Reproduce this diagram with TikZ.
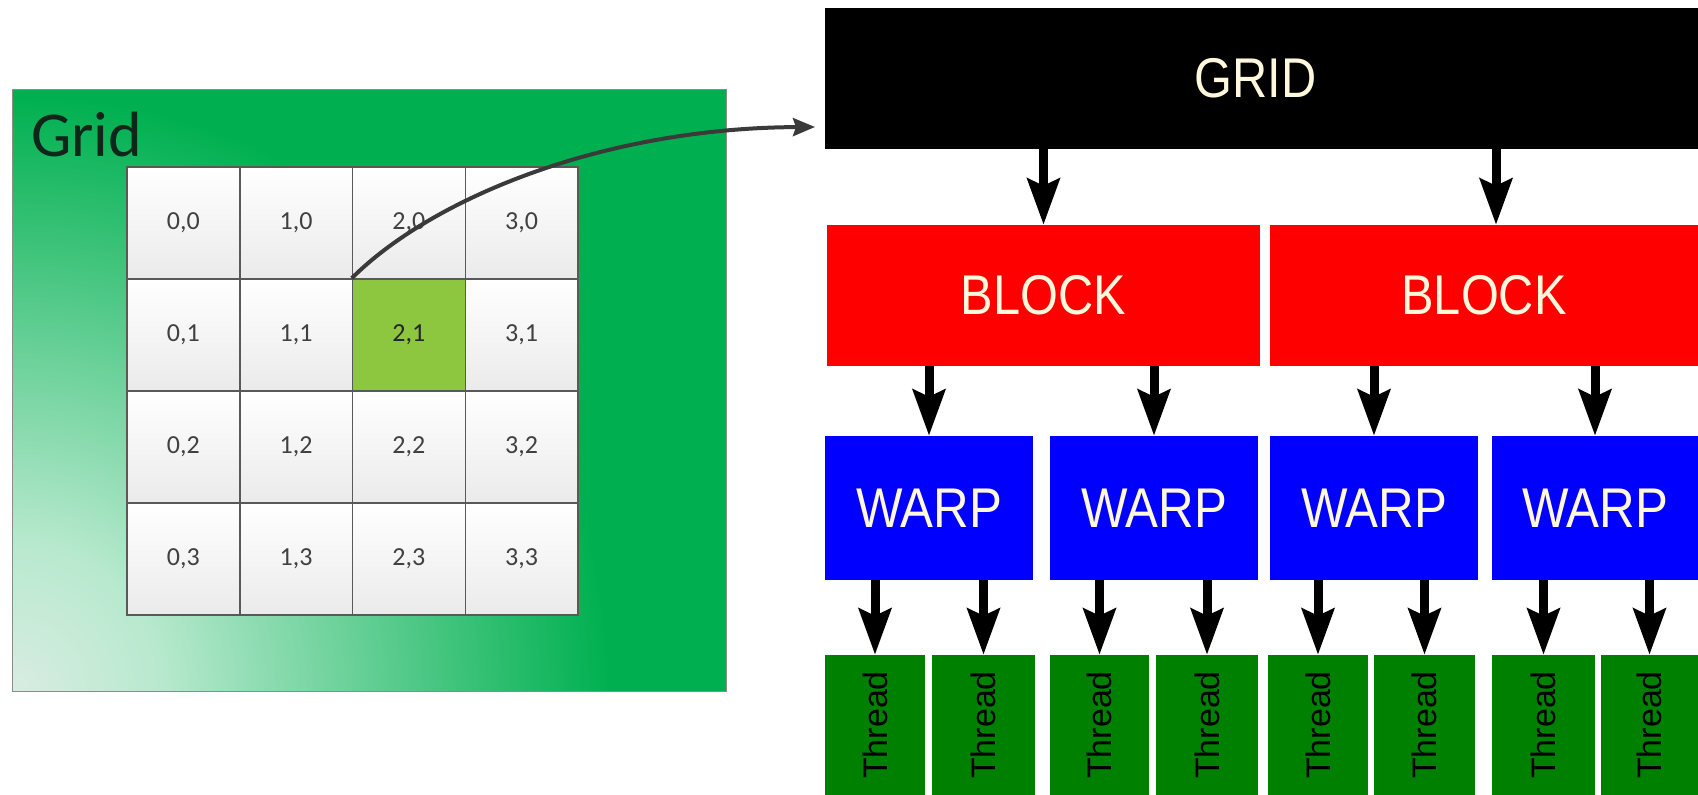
\documentclass[tikz,border=0pt]{standalone}
\usepackage{fontspec}
\setmainfont{Liberation Sans}
\newfontfamily\arialf{Liberation Sans}
\newfontfamily\calib{Carlito}
\usetikzlibrary{arrows.meta}
\definecolor{panelgreen}{HTML}{00B050}
\definecolor{cellgreen}{HTML}{8DC63F}
\definecolor{cream}{HTML}{FFF8DC}
\definecolor{curvegray}{HTML}{3A3A3A}
\definecolor{threadgreen}{HTML}{008000}
\definecolor{labeldark}{HTML}{10261A}
\definecolor{celltext}{HTML}{404040}
\pgfdeclareradialshading{fadebl}{\pgfpoint{0bp}{0bp}}{%
  color(0bp)=(white!88!panelgreen!92!gray);
  color(6bp)=(white!72!panelgreen);
  color(14bp)=(white!40!panelgreen);
  color(24bp)=(panelgreen);
  color(50bp)=(panelgreen)}
\begin{document}
\begin{tikzpicture}[x=1pt,y=-1pt,
  cell/.style={draw=black!65, line width=1.5pt, top color=white, bottom color=black!8,
    minimum width=112.75pt, minimum height=112pt, inner sep=0pt,
    font=\calib\fontsize{26}{28}\selectfont, text=celltext},
  box/.style={inner sep=0pt, text=cream, font=\arialf\fontsize{56}{60}\selectfont},
  gridbox/.style={box, fill=black, minimum width=873pt, minimum height=141pt},
  blockbox/.style={box, fill=red, minimum height=141pt},
  warpbox/.style={box, fill=blue, minimum height=144pt},
  threadbox/.style={inner sep=0pt, fill=threadgreen, minimum height=140pt, text=black,
    font=\arialf\fontsize{34}{36}\selectfont},
  arr/.style={line width=9pt, -{Stealth[length=46pt, width=32pt, inset=7pt]}},
  curvearr/.style={line width=4pt, draw=curvegray, -{Stealth[length=22pt, width=18pt, inset=3pt]}}
]
\useasboundingbox (0,0) rectangle (1698,795);
\fill[white] (0,0) rectangle (1698,795);

% left panel
\node[fill=panelgreen, minimum width=713pt, minimum height=601pt, inner sep=0pt] (panel) at (369.5,390.5) {};
\begin{scope}
  \clip (panel.south west) rectangle (panel.north east);
  \shade[shading=fadebl] (panel.south west) circle (620pt);
\end{scope}
\draw[black!45, line width=1pt] (panel.south west) rectangle (panel.north east);
\node[anchor=base west, inner sep=0pt, text=labeldark, font=\calib\fontsize{64}{64}\selectfont] (gridlabel) at (31,156) {Grid};

\foreach \c/\r in {0/0,1/0,2/0,3/0,0/1,1/1,3/1,0/2,1/2,2/2,3/2,0/3,1/3,2/3,3/3}
  \node[cell] (c\c\r) at ({127+112.75*(\c+0.5)},{167+112*(\r+0.5)}) {\c,\r};
\node[cell, top color=cellgreen, bottom color=cellgreen, text=black!85] (c21) at ({127+112.75*2.5},{167+112*1.5}) {2,1};

\coordinate (gtip) at (815,127);
\draw[curvearr] (c21.north west) .. controls (430,200) and (600,128) .. (gtip);

% right hierarchy
\node[gridbox] (g) at (1261.5,78.5) {\hspace*{-12pt}\scalebox{0.87}[1]{GRID}};
\node[blockbox, minimum width=433pt] (b1) at (1043.5,295.5) {\scalebox{0.87}[1]{BLOCK}};
\node[blockbox, minimum width=428pt] (b2) at (1484,295.5) {\scalebox{0.87}[1]{BLOCK}};

\node[warpbox, minimum width=208pt] (w1) at (929,508) {\scalebox{0.88}[1]{WARP}};
\node[warpbox, minimum width=208pt] (w2) at (1154,508) {\scalebox{0.88}[1]{WARP}};
\node[warpbox, minimum width=208pt] (w3) at (1374,508) {\scalebox{0.88}[1]{WARP}};
\node[warpbox, minimum width=206pt] (w4) at (1595,508) {\scalebox{0.88}[1]{WARP}};

\foreach \i/\x/\w in {1/875/100, 2/983.5/103, 3/1099.5/99, 4/1207/102, 5/1318/100, 6/1424.5/101, 7/1543.5/103, 8/1649.5/97}
  \node[threadbox, minimum width=\w pt] (t\i) at (\x,725) {\rotatebox{90}{Thread}};

\draw[arr] (b1.north |- g.south) -- (b1.north);
\draw[arr] ([xshift=12pt]b2.north |- g.south) -- ([xshift=12pt]b2.north);

\draw[arr] (w1.north |- b1.south) -- (w1.north);
\draw[arr] (w2.north |- b1.south) -- (w2.north);
\draw[arr] (w3.north |- b2.south) -- (w3.north);
\draw[arr] (w4.north |- b2.south) -- (w4.north);

\draw[arr] (t1.north |- w1.south) -- (t1.north);
\draw[arr] (t2.north |- w1.south) -- (t2.north);
\draw[arr] (t3.north |- w2.south) -- (t3.north);
\draw[arr] (t4.north |- w2.south) -- (t4.north);
\draw[arr] (t5.north |- w3.south) -- (t5.north);
\draw[arr] (t6.north |- w3.south) -- (t6.north);
\draw[arr] (t7.north |- w4.south) -- (t7.north);
\draw[arr] (t8.north |- w4.south) -- (t8.north);
\end{tikzpicture}
\end{document}
